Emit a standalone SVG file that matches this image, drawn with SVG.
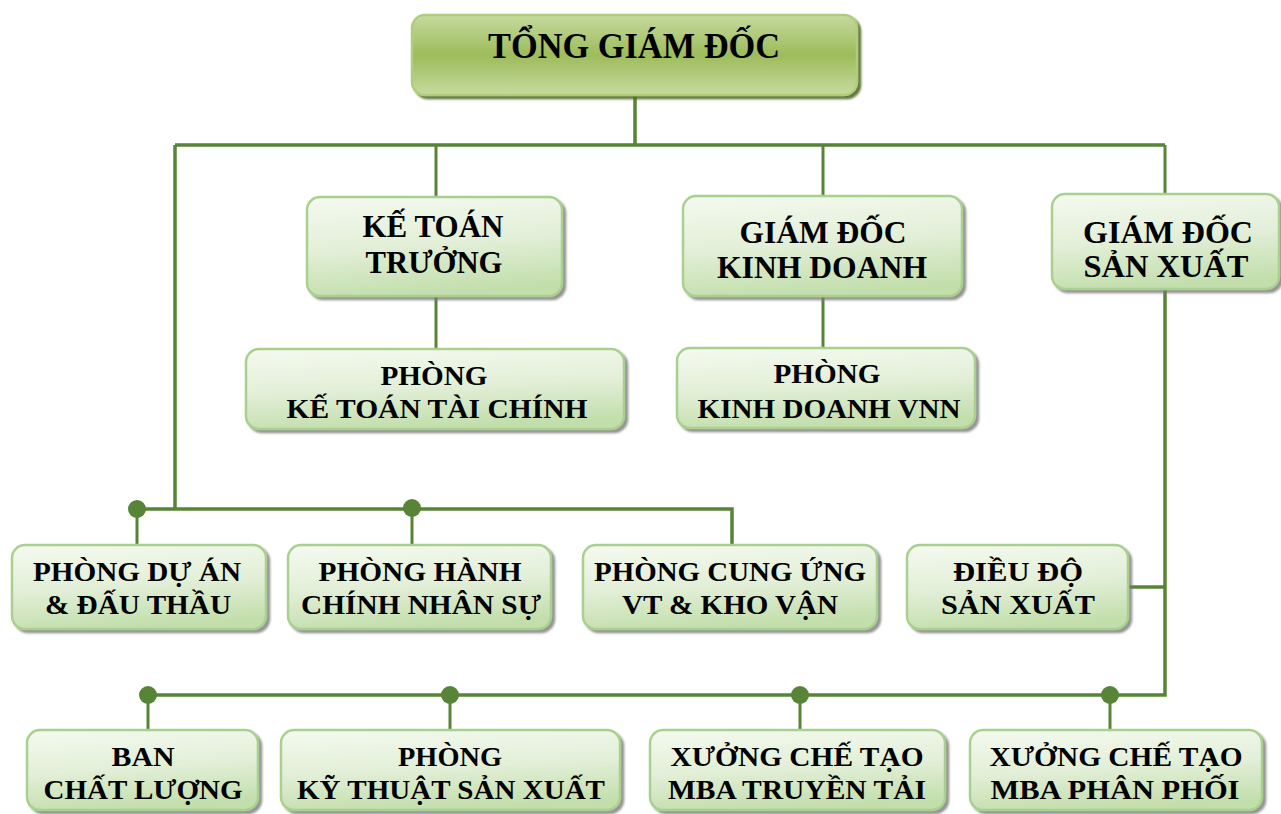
<svg xmlns="http://www.w3.org/2000/svg" width="1281" height="814" viewBox="0 0 1281 814">
<defs>
<linearGradient id="gTop" x1="0" y1="0" x2="0" y2="1">
<stop offset="0" stop-color="#c6da9f"/>
<stop offset="0.5" stop-color="#9dbc5a"/>
<stop offset="1" stop-color="#c6da9f"/>
</linearGradient>
<linearGradient id="gBox" x1="0.2" y1="0" x2="0.4" y2="1">
<stop offset="0" stop-color="#f3f9ee"/>
<stop offset="0.5" stop-color="#e3efd8"/>
<stop offset="1" stop-color="#c2deab"/>
</linearGradient>
<filter id="shTop" x="-5%" y="-10%" width="115%" height="130%">
<feDropShadow dx="3" dy="3" stdDeviation="1" flood-color="#4f6a24" flood-opacity="0.9"/>
</filter>
<filter id="sh" x="-5%" y="-10%" width="115%" height="130%">
<feDropShadow dx="3" dy="3" stdDeviation="1.2" flood-color="#7a7a7a" flood-opacity="0.8"/>
</filter>
</defs>
<style>
.box{fill:url(#gBox);stroke:#a9d08e;stroke-width:2.5;filter:url(#sh)}
.top{fill:url(#gTop);stroke:#b0cd7c;stroke-width:2.5;filter:url(#shTop)}
.t{font-family:"Liberation Serif","Times New Roman",serif;font-weight:bold;fill:#000;text-anchor:middle;font-size:31px}
.s{font-size:28px}
.ln{stroke:#578436;stroke-width:3.5;fill:none}
.dr{stroke:#578436;stroke-width:3;fill:none}
.dot{fill:#578436}
</style>

<g id="connectors">
<path class="ln" d="M635 95 V145 M175 145 H1165 M175 145 V509"/>
<path class="dr" d="M436 145 V197 M823 145 V196 M1165 145 V194"/>
<path class="dr" d="M436 297 V349 M823 296 V348"/>
<path class="ln" d="M1165 289 V695 H148"/>
<path class="ln" d="M1128 587 H1165"/>
<path class="ln" d="M137 509 H732 V545"/>
<path class="dr" d="M137 509 V545 M412 509 V545"/>
<path class="dr" d="M148 695 V730 M450 695 V730 M800 695 V730 M1110 695 V730"/>
<circle class="dot" cx="137" cy="509" r="9"/>
<circle class="dot" cx="412" cy="508" r="9"/>
<circle class="dot" cx="148" cy="695" r="9"/>
<circle class="dot" cx="450" cy="695" r="9"/>
<circle class="dot" cx="800" cy="695" r="9"/>
<circle class="dot" cx="1110" cy="695" r="9"/>
</g>

<g id="tong-giam-doc">
<rect class="top" x="412" y="15" width="445" height="80" rx="13"/>
<text class="t" x="634" y="58" style="font-size:36px" textLength="292" lengthAdjust="spacingAndGlyphs">TỔNG GIÁM ĐỐC</text>
</g>

<g id="ke-toan-truong">
<rect class="box" x="307" y="197" width="255" height="99" rx="13"/>
<text class="t" x="433" y="237" textLength="141" lengthAdjust="spacingAndGlyphs">KẾ TOÁN</text>
<text class="t" x="434" y="273" textLength="137" lengthAdjust="spacingAndGlyphs">TRƯỞNG</text>
</g>

<g id="phong-ke-toan">
<rect class="box" x="246" y="349" width="378" height="80" rx="13"/>
<text class="t s" x="434" y="385" textLength="107" lengthAdjust="spacingAndGlyphs">PHÒNG</text>
<text class="t s" x="437" y="418" textLength="301" lengthAdjust="spacingAndGlyphs">KẾ TOÁN TÀI CHÍNH</text>
</g>

<g id="giam-doc-kinh-doanh">
<rect class="box" x="683" y="196" width="279" height="100" rx="13"/>
<text class="t" x="823" y="243" textLength="167" lengthAdjust="spacingAndGlyphs">GIÁM ĐỐC</text>
<text class="t" x="822" y="278" textLength="210" lengthAdjust="spacingAndGlyphs">KINH DOANH</text>
</g>

<g id="phong-kinh-doanh">
<rect class="box" x="677" y="348" width="298" height="80" rx="13"/>
<text class="t s" x="827" y="383" textLength="107" lengthAdjust="spacingAndGlyphs">PHÒNG</text>
<text class="t s" x="829" y="418" textLength="263" lengthAdjust="spacingAndGlyphs">KINH DOANH VNN</text>
</g>

<g id="giam-doc-san-xuat">
<rect class="box" x="1052" y="194" width="227" height="95" rx="13"/>
<text class="t" x="1168" y="243" textLength="170" lengthAdjust="spacingAndGlyphs">GIÁM ĐỐC</text>
<text class="t" x="1166" y="277" textLength="165" lengthAdjust="spacingAndGlyphs">SẢN XUẤT</text>
</g>

<g id="phong-du-an">
<rect class="box" x="12" y="545" width="254" height="84" rx="13"/>
<text class="t s" x="137" y="581" textLength="208" lengthAdjust="spacingAndGlyphs">PHÒNG DỰ ÁN</text>
<text class="t s" x="138" y="614" textLength="186" lengthAdjust="spacingAndGlyphs">&amp; ĐẤU THẦU</text>
</g>

<g id="phong-hanh-chinh">
<rect class="box" x="288" y="545" width="263" height="84" rx="13"/>
<text class="t s" x="420" y="581" textLength="203" lengthAdjust="spacingAndGlyphs">PHÒNG HÀNH</text>
<text class="t s" x="421" y="614" textLength="240" lengthAdjust="spacingAndGlyphs">CHÍNH NHÂN SỰ</text>
</g>

<g id="phong-cung-ung">
<rect class="box" x="583" y="545" width="294" height="84" rx="13"/>
<text class="t s" x="730" y="581" textLength="272" lengthAdjust="spacingAndGlyphs">PHÒNG CUNG ỨNG</text>
<text class="t s" x="730" y="614" textLength="216" lengthAdjust="spacingAndGlyphs">VT &amp; KHO VẬN</text>
</g>

<g id="dieu-do">
<rect class="box" x="907" y="545" width="221" height="84" rx="13"/>
<text class="t s" x="1018" y="581" textLength="130" lengthAdjust="spacingAndGlyphs">ĐIỀU ĐỘ</text>
<text class="t s" x="1018" y="614" textLength="154" lengthAdjust="spacingAndGlyphs">SẢN XUẤT</text>
</g>

<g id="ban-chat-luong">
<rect class="box" x="27" y="730" width="231" height="80" rx="13"/>
<text class="t s" x="143" y="766" textLength="63" lengthAdjust="spacingAndGlyphs">BAN</text>
<text class="t s" x="143" y="799" textLength="199" lengthAdjust="spacingAndGlyphs">CHẤT LƯỢNG</text>
</g>

<g id="phong-ky-thuat">
<rect class="box" x="281" y="730" width="339" height="80" rx="13"/>
<text class="t s" x="450" y="766" textLength="104" lengthAdjust="spacingAndGlyphs">PHÒNG</text>
<text class="t s" x="451" y="799" textLength="308" lengthAdjust="spacingAndGlyphs">KỸ THUẬT SẢN XUẤT</text>
</g>

<g id="xuong-truyen-tai">
<rect class="box" x="650" y="730" width="295" height="80" rx="13"/>
<text class="t s" x="797" y="766" textLength="253" lengthAdjust="spacingAndGlyphs">XƯỞNG CHẾ TẠO</text>
<text class="t s" x="797" y="799" textLength="258" lengthAdjust="spacingAndGlyphs">MBA TRUYỀN TẢI</text>
</g>

<g id="xuong-phan-phoi">
<rect class="box" x="970" y="730" width="292" height="80" rx="13"/>
<text class="t s" x="1116" y="766" textLength="253" lengthAdjust="spacingAndGlyphs">XƯỞNG CHẾ TẠO</text>
<text class="t s" x="1115" y="799" textLength="249" lengthAdjust="spacingAndGlyphs">MBA PHÂN PHỐI</text>
</g>
</svg>
